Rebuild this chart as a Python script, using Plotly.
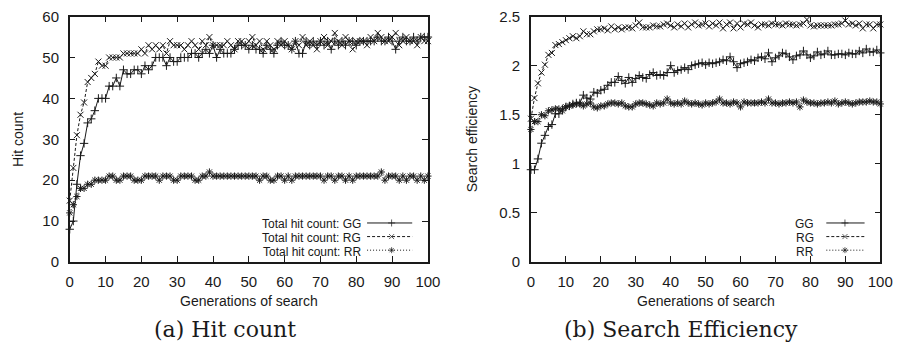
import plotly.graph_objects as go

# ---------------- data ----------------
generations = list(range(0, 101))

hit_gg = [8, 10, 19, 26, 29, 34, 35, 37, 40, 40, 40, 43, 43, 45, 43, 47, 46, 46, 47, 47,
          46, 48, 47, 48, 50, 50, 50, 48, 50, 49, 49, 50, 50, 50, 51, 51, 50, 51, 52, 51,
          53, 50, 52, 51, 51, 51, 52, 53, 53, 53, 52, 53, 52, 52, 51, 53, 52, 51, 53, 54,
          53, 53, 52, 54, 51, 51, 54, 53, 54, 53, 54, 53, 54, 52, 54, 53, 54, 53, 54, 54,
          53, 54, 54, 54, 54, 54, 55, 54, 54, 55, 54, 52, 54, 55, 54, 54, 55, 54, 55, 55, 55]
hit_rg = [15, 23, 31, 36, 39, 44, 45, 46, 49, 48, 48, 50, 50, 50, 50, 51, 51, 51, 51, 51,
          52, 51, 53, 52, 53, 52, 53, 51, 54, 53, 53, 53, 52, 53, 54, 53, 52, 54, 53, 55,
          53, 53, 53, 53, 54, 53, 52, 54, 54, 53, 54, 55, 53, 54, 52, 54, 53, 52, 54, 53,
          54, 53, 52, 54, 53, 55, 53, 54, 53, 52, 54, 55, 53, 54, 56, 54, 53, 55, 54, 52,
          54, 54, 54, 53, 55, 54, 56, 55, 54, 54, 55, 56, 53, 54, 55, 54, 54, 53, 55, 54, 54]
hit_rr = [12, 14, 16, 18, 18, 19, 19, 20, 20, 20, 20, 21, 21, 20, 20, 21, 21, 21, 20, 20,
          20, 21, 21, 21, 21, 20, 21, 21, 21, 20, 20, 21, 21, 21, 21, 20, 20, 21, 21, 22,
          21, 21, 21, 21, 21, 21, 21, 21, 21, 21, 21, 21, 21, 20, 21, 21, 20, 20, 21, 21,
          20, 21, 20, 21, 21, 21, 21, 21, 21, 21, 21, 20, 21, 21, 20, 21, 21, 20, 21, 20,
          21, 21, 21, 21, 21, 21, 21, 22, 20, 21, 21, 21, 20, 21, 20, 21, 21, 20, 21, 20, 21]

eff_gg = [0.94, 0.94, 1.05, 1.21, 1.29, 1.38, 1.40, 1.51, 1.51, 1.56, 1.58, 1.59, 1.61, 1.62, 1.62,
          1.70, 1.67, 1.66, 1.73, 1.72, 1.75, 1.76, 1.80, 1.83, 1.83, 1.89, 1.85, 1.82, 1.88, 1.83,
          1.87, 1.90, 1.88, 1.87, 1.91, 1.93, 1.90, 1.91, 1.90, 1.93, 2.00, 1.93, 1.95, 1.96, 1.98,
          1.96, 2.00, 2.01, 2.02, 2.03, 2.01, 2.03, 2.02, 2.03, 2.04, 2.06, 2.05, 2.09, 2.04, 1.98,
          2.02, 2.03, 2.04, 2.06, 2.05, 2.08, 2.09, 2.07, 2.13, 2.04, 2.08, 2.10, 2.13, 2.12, 2.09,
          2.06, 2.10, 2.11, 2.15, 2.11, 2.08, 2.10, 2.14, 2.11, 2.12, 2.15, 2.11, 2.11, 2.12, 2.12,
          2.11, 2.13, 2.12, 2.12, 2.15, 2.13, 2.17, 2.14, 2.14, 2.16, 2.13]
eff_rg = [1.46, 1.67, 1.82, 1.93, 2.01, 2.11, 2.13, 2.21, 2.22, 2.24, 2.26, 2.28, 2.30, 2.28, 2.30,
          2.35, 2.32, 2.32, 2.35, 2.37, 2.37, 2.38, 2.36, 2.40, 2.37, 2.39, 2.37, 2.39, 2.39, 2.38,
          2.41, 2.44, 2.39, 2.39, 2.39, 2.41, 2.40, 2.40, 2.42, 2.43, 2.41, 2.39, 2.42, 2.40, 2.43,
          2.39, 2.42, 2.44, 2.41, 2.42, 2.43, 2.40, 2.43, 2.41, 2.44, 2.38, 2.42, 2.44, 2.38, 2.43,
          2.39, 2.43, 2.42, 2.44, 2.41, 2.39, 2.42, 2.42, 2.41, 2.43, 2.42, 2.42, 2.41, 2.43, 2.42,
          2.42, 2.41, 2.42, 2.43, 2.47, 2.41, 2.40, 2.41, 2.41, 2.41, 2.41, 2.41, 2.42, 2.42, 2.43,
          2.46, 2.42, 2.43, 2.41, 2.43, 2.38, 2.42, 2.42, 2.38, 2.42, 2.42]
eff_rr = [1.35, 1.43, 1.43, 1.50, 1.49, 1.54, 1.55, 1.56, 1.56, 1.54, 1.58, 1.59, 1.60, 1.61, 1.61,
          1.59, 1.61, 1.62, 1.58, 1.57, 1.59, 1.59, 1.61, 1.62, 1.62, 1.61, 1.62, 1.59, 1.58, 1.58,
          1.61, 1.62, 1.62, 1.61, 1.60, 1.59, 1.62, 1.61, 1.62, 1.66, 1.62, 1.61, 1.62, 1.61, 1.64,
          1.62, 1.61, 1.62, 1.61, 1.60, 1.62, 1.61, 1.62, 1.63, 1.66, 1.62, 1.62, 1.61, 1.63, 1.62,
          1.58, 1.63, 1.62, 1.62, 1.62, 1.62, 1.63, 1.62, 1.66, 1.62, 1.62, 1.61, 1.62, 1.62, 1.63,
          1.62, 1.63, 1.58, 1.65, 1.63, 1.62, 1.62, 1.61, 1.62, 1.62, 1.63, 1.62, 1.64, 1.61, 1.62,
          1.63, 1.62, 1.61, 1.62, 1.63, 1.63, 1.63, 1.64, 1.63, 1.63, 1.61]

legend_left = ["Total hit count: GG", "Total hit count: RG", "Total hit count: RR"]
legend_right = ["GG", "RG", "RR"]
x_ticks = [0, 10, 20, 30, 40, 50, 60, 70, 80, 90, 100]
hit_ticks = [0, 10, 20, 30, 40, 50, 60]
eff_ticks = [0, 0.5, 1, 1.5, 2, 2.5]
eff_tick_labels = ["0", "0.5", "1", "1.5", "2", "2.5"]

# ---------------- layout helpers ----------------
W, H = 908, 347
def px(x):
    return x / W
def py(y):
    return 1 - y / H

INK = "#1a1a1a"
SANS = "Liberation Sans, Arial, sans-serif"
SERIF = "DejaVu Serif, serif"

styles = [
    dict(dash="solid", symbol="cross-thin-open"),
    dict(dash="3px,2px", symbol="x-thin-open"),
    dict(dash="1px,2px", symbol="asterisk-open"),
]

fig = go.Figure()

def add_series(xs, ys, st, xa, ya):
    fig.add_trace(go.Scatter(
        x=xs, y=ys, mode="lines+markers", xaxis=xa, yaxis=ya, cliponaxis=False,
        line=dict(color=INK, width=1, dash=st["dash"]),
        marker=dict(symbol=st["symbol"], size=6, color=INK, line=dict(color=INK, width=1)),
        showlegend=False, hoverinfo="skip"))

for ys, st in zip([hit_gg, hit_rg, hit_rr], styles):
    add_series(generations, ys, st, "x", "y")
for ys, st in zip([eff_gg, eff_rg, eff_rr], styles):
    add_series(generations, ys, st, "x2", "y2")

# legend samples on an invisible full-page axis (pixel coordinates)
def add_legend(labels, text_right, line_x0, line_x1, mark_x, rows):
    for lab, st, yrow in zip(labels, styles, rows):
        fig.add_trace(go.Scatter(
            x=[line_x0, mark_x, line_x1], y=[yrow, yrow, yrow], mode="lines+markers",
            xaxis="x3", yaxis="y3", cliponaxis=False,
            line=dict(color=INK, width=1, dash=st["dash"]),
            marker=dict(symbol=st["symbol"], size=[0, 5, 0], color=INK,
                        line=dict(color=INK, width=1)),
            showlegend=False, hoverinfo="skip"))
        fig.add_annotation(x=px(text_right), y=py(yrow + 1.5), xref="paper", yref="paper",
                           text=lab, showarrow=False, xanchor="right", yanchor="middle",
                           font=dict(family=SANS, size=12, color=INK))

add_legend(legend_left, 366, 370, 416, 395, [225, 239.3, 253.6])
add_legend(legend_right, 828, 838, 877, 857, [225, 239.3, 253.6])

axis_common = dict(
    showline=True, linecolor=INK, linewidth=1.5, mirror="ticks", ticks="inside",
    ticklen=6, tickwidth=1, tickcolor=INK, showgrid=False, zeroline=False,
    ticklabeloverflow="allow",
    tickfont=dict(family=SANS, size=15, color=INK),
)

ydom = [py(266), py(8)]
fig.update_layout(
    width=W, height=H, margin=dict(l=0, r=0, t=0, b=0),
    paper_bgcolor="white", plot_bgcolor="rgba(0,0,0,0)",
    xaxis=dict(domain=[px(67), px(432)], range=[0, 100], tickvals=x_ticks,
               anchor="y", ticklabelstandoff=5, **axis_common),
    yaxis=dict(domain=ydom, range=[0, 60], tickvals=hit_ticks, anchor="x",
               ticklabelstandoff=6, **axis_common),
    xaxis2=dict(domain=[px(537), px(893)], range=[0, 100], tickvals=x_ticks,
                anchor="y2", ticklabelstandoff=5, **axis_common),
    yaxis2=dict(domain=ydom, range=[0, 2.5], tickvals=eff_ticks, ticktext=eff_tick_labels,
                anchor="x2", ticklabelstandoff=6, **axis_common),
    xaxis3=dict(domain=[0, 1], range=[0, W], visible=False, anchor="y3", fixedrange=True),
    yaxis3=dict(domain=[0, 1], range=[H, 0], visible=False, anchor="x3", fixedrange=True),
    showlegend=False,
)

# axis titles and captions
def note(x, y, text, size, family, angle=0):
    fig.add_annotation(x=px(x), y=py(y), xref="paper", yref="paper", text=text,
                       showarrow=False, xanchor="center", yanchor="middle", textangle=angle,
                       font=dict(family=family, size=size, color=INK))

note(249.5, 307, "Generations of search", 14, SANS)
note(715, 307, "Generations of search", 14, SANS)
note(15, 137, "Hit count", 14, SANS, -90)
note(477, 137, "Search efficiency", 14, SANS, -90)
note(225, 337, "(a) Hit count", 22, SERIF)
note(690, 337, "(b) Search Efficiency", 22, SERIF)

fig.write_html("out.html")
